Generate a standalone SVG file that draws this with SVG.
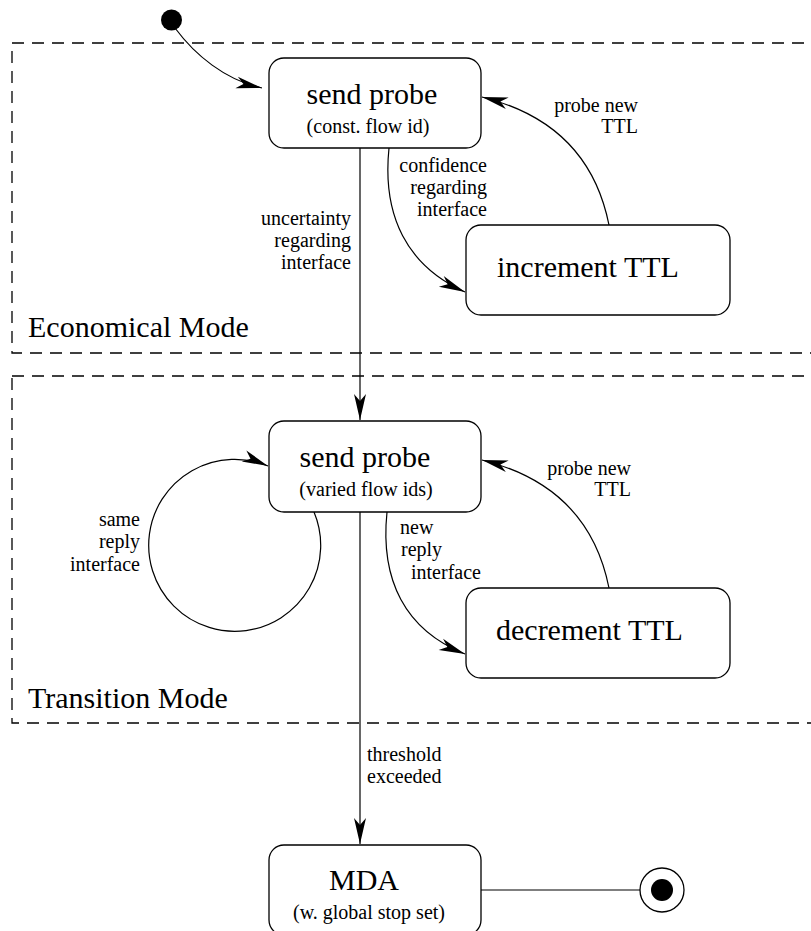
<svg xmlns="http://www.w3.org/2000/svg" width="811" height="931" viewBox="0 0 811 931" font-family="'Liberation Serif', 'Times New Roman', Times, serif">
<style>
  .box { fill: #fff; stroke: #000; stroke-width: 1.3; }
  .edge { fill: none; stroke: #000; stroke-width: 1.2; }
  .region { fill: none; stroke: #000; stroke-width: 1.3; stroke-dasharray: 12 8; }
  text { font-family: 'Liberation Serif', 'Times New Roman', Times, serif; fill: #000; }
  .big { font-size: 30px; }
  .sub { font-size: 20px; }
  .lbl { font-size: 20px; }
  .mid { text-anchor: middle; }
  .end { text-anchor: end; }
</style>
<defs>
  <marker id="arr" markerUnits="userSpaceOnUse" markerWidth="30" markerHeight="16" viewBox="-28 -8 30 16" refX="0" refY="0" orient="auto">
    <path d="M0,0 L-26,-6 L-19,0 L-26,6 Z" fill="#000"/>
  </marker>
</defs>
<rect width="811" height="931" fill="#fff"/>

<g id="regions">
  <g id="economical-mode">
    <rect class="region" x="12" y="43" width="830" height="310"/>
    <text class="big" x="28" y="337">Economical Mode</text>
  </g>
  <g id="transition-mode">
    <rect class="region" x="12" y="376" width="830" height="347"/>
    <text class="big" x="28" y="708">Transition Mode</text>
  </g>
</g>

<g id="connectors">
  <path class="edge" d="M175,28 C195,55 225,80 262,88" marker-end="url(#arr)"/>
  <path class="edge" d="M360,148 V420" marker-end="url(#arr)"/>
  <path class="edge" d="M389,148 C382,216 407,266 465,292" marker-end="url(#arr)"/>
  <path class="edge" d="M609,225 C596,160 555,115 482,97" marker-end="url(#arr)"/>
  <path class="edge" d="M314,512 A86,86 0 1 1 268,466" marker-end="url(#arr)"/>
  <path class="edge" d="M387,512 C380,580 405,630 465,654" marker-end="url(#arr)"/>
  <path class="edge" d="M609,588 C596,523 555,478 482,460" marker-end="url(#arr)"/>
  <path class="edge" d="M360,512 V844" marker-end="url(#arr)"/>
  <path class="edge" d="M481,890 H640"/>

  <text class="lbl end" x="638" y="112">probe new</text>
  <text class="lbl end" x="638" y="133">TTL</text>
  <text class="lbl end" x="487" y="172">confidence</text>
  <text class="lbl end" x="487" y="194">regarding</text>
  <text class="lbl end" x="487" y="216">interface</text>
  <text class="lbl end" x="351" y="225">uncertainty</text>
  <text class="lbl end" x="351" y="247">regarding</text>
  <text class="lbl end" x="351" y="269">interface</text>
  <text class="lbl end" x="140" y="526">same</text>
  <text class="lbl end" x="140" y="548">reply</text>
  <text class="lbl end" x="140" y="571">interface</text>
  <text class="lbl" x="400" y="534">new</text>
  <text class="lbl" x="401" y="556">reply</text>
  <text class="lbl" x="411" y="579">interface</text>
  <text class="lbl end" x="631" y="475">probe new</text>
  <text class="lbl end" x="631" y="496">TTL</text>
  <text class="lbl" x="367" y="761">threshold</text>
  <text class="lbl" x="367" y="783">exceeded</text>
</g>

<g id="initial">
  <circle cx="171.5" cy="20" r="10.5" fill="#000"/>
</g>

<g id="send-probe-const">
  <rect class="box" x="269" y="58" width="212" height="90" rx="15"/>
  <text class="big mid" x="372" y="104">send probe</text>
  <text class="sub mid" x="368" y="133">(const. flow id)</text>
</g>

<g id="increment-ttl">
  <rect class="box" x="466" y="225" width="264" height="90" rx="15"/>
  <text class="big" x="497" y="277">increment TTL</text>
</g>

<g id="send-probe-varied">
  <rect class="box" x="269" y="421" width="212" height="91" rx="15"/>
  <text class="big mid" x="365" y="467">send probe</text>
  <text class="sub mid" x="366" y="496">(varied flow ids)</text>
</g>

<g id="decrement-ttl">
  <rect class="box" x="466" y="588" width="264" height="90" rx="15"/>
  <text class="big" x="496" y="640">decrement TTL</text>
</g>

<g id="mda">
  <rect class="box" x="269" y="845" width="212" height="90" rx="15"/>
  <text class="big mid" x="364" y="890">MDA</text>
  <text class="sub mid" x="369" y="919">(w. global stop set)</text>
</g>

<g id="final">
  <circle cx="662" cy="890" r="22" fill="#fff" stroke="#000" stroke-width="1.3"/>
  <circle cx="662" cy="890" r="11" fill="#000"/>
</g>
</svg>
